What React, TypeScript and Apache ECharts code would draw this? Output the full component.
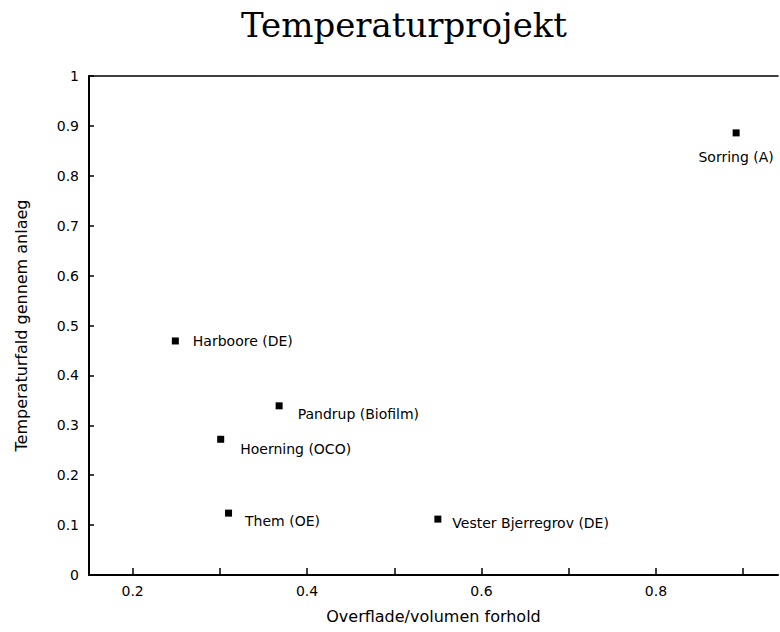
import React, { useEffect, useRef } from "react";
import * as echarts from "echarts";

const names = [
  "Sorring (A)",
  "Harboore (DE)",
  "Pandrup (Biofilm)",
  "Hoerning (OCO)",
  "Them (OE)",
  "Vester Bjerregrov (DE)",
];
const xVals = [0.892, 0.249, 0.368, 0.301, 0.31, 0.55];
const yVals = [0.886, 0.469, 0.339, 0.272, 0.124, 0.112];
const xLabelValues = [0.2, 0.4, 0.6, 0.8];
const xTickValues = [0.2, 0.3, 0.4, 0.5, 0.6, 0.7, 0.8, 0.9];

const labelStyles: any[] = [
  { position: "bottom", distance: 14, offset: [0, 0] },
  { position: "right", distance: 14, offset: [0, 0] },
  { position: "right", distance: 15, offset: [0, 8] },
  { position: "right", distance: 16, offset: [0, 10] },
  { position: "right", distance: 13, offset: [0, 8] },
  { position: "right", distance: 11, offset: [0, 4] },
];

export default function App() {
  const ref = useRef<HTMLDivElement>(null);
  useEffect(() => {
    if (!ref.current) return;
    const chart = echarts.init(ref.current, undefined, { renderer: "svg" });
    const font = "DejaVu Sans";
    chart.setOption({
      animation: false,
      backgroundColor: "#ffffff",
      title: {
        text: "Temperaturprojekt",
        left: 399,
        top: 3,
        textAlign: "center",
        textStyle: {
          fontFamily: "DejaVu Serif",
          fontWeight: "normal",
          fontSize: 34,
          color: "#000",
        },
      },
      grid: { left: 89, right: 2, top: 76, bottom: 57 },
      xAxis: [
        {
          type: "value",
          min: 0.15,
          max: 0.94,
          name: "Overflade/volumen forhold",
          nameLocation: "middle",
          nameGap: 33,
          nameTextStyle: { fontFamily: font, fontSize: 16, color: "#000" },
          axisLine: { show: true, lineStyle: { color: "#000", width: 2 } },
          axisTick: {
            show: true,
            inside: true,
            length: 7,
            customValues: xTickValues,
            lineStyle: { color: "#000", width: 1.5 },
          },
          axisLabel: {
            customValues: xLabelValues,
            margin: 9,
            fontFamily: font,
            fontSize: 14,
            color: "#000",
          },
          splitLine: { show: false },
        },
        {
          type: "value",
          position: "top",
          min: 0.15,
          max: 0.94,
          axisLine: { show: true, lineStyle: { color: "#000", width: 1.5 } },
          axisTick: { show: false },
          axisLabel: { show: false },
          splitLine: { show: false },
        },
      ],
      yAxis: {
        type: "value",
        min: 0,
        max: 1,
        interval: 0.1,
        name: "Temperaturfald gennem anlaeg",
        nameLocation: "middle",
        nameGap: 60,
        nameTextStyle: { fontFamily: font, fontSize: 16, color: "#000" },
        axisLine: { show: true, lineStyle: { color: "#000", width: 2 } },
        axisTick: {
          show: true,
          inside: true,
          length: 5,
          lineStyle: { color: "#000", width: 1.5 },
        },
        axisLabel: {
          margin: 10,
          fontFamily: font,
          fontSize: 14,
          color: "#000",
        },
        splitLine: { show: false },
      },
      series: [
        {
          type: "scatter",
          symbol: "rect",
          symbolSize: 7,
          itemStyle: { color: "#000", opacity: 1 },
          label: {
            show: true,
            formatter: "{b}",
            fontFamily: font,
            fontSize: 14,
            color: "#000",
          },
          data: names.map((n, i) => ({
            name: n,
            value: [xVals[i], yVals[i]],
            label: labelStyles[i],
          })),
        },
      ],
    });
    return () => chart.dispose();
  }, []);
  return (
    <div
      ref={ref}
      style={{ position: "absolute", left: 0, top: 0, width: 780, height: 632 }}
    />
  );
}
